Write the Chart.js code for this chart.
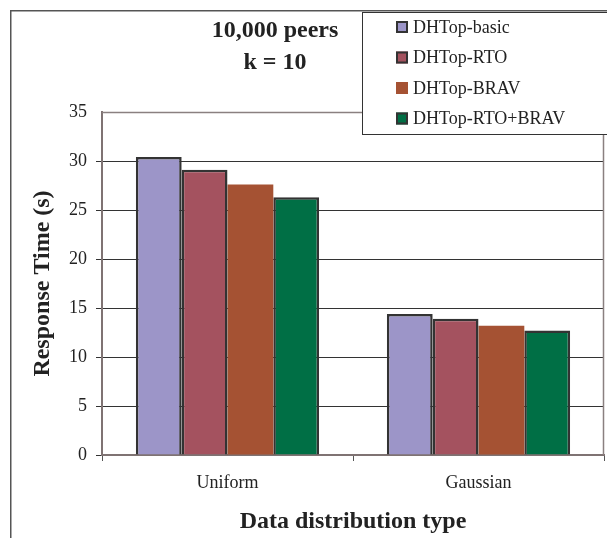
<!DOCTYPE html>
<html>
<head>
<meta charset="utf-8">
<script src="https://cdn.jsdelivr.net/npm/chart.js@4/dist/chart.umd.min.js"></script>
<style>
html,body{margin:0;padding:0;background:#fff;}
#wrap{width:607px;height:538px;position:relative;}
</style>
</head>
<body>
<div id="wrap"><canvas id="c" width="607" height="538"></canvas></div>
<script>
const categories = ["Uniform", "Gaussian"];
const seriesNames = ["DHTop-basic", "DHTop-RTO", "DHTop-BRAV", "DHTop-RTO+BRAV"];
const basicValues = [30.4, 14.4];
const rtoValues = [29.1, 13.9];
const bravValues = [27.6, 13.2];
const rtoBravValues = [26.3, 12.7];
const titleLines = ["10,000 peers", "k = 10"];
const yTitle = "Response Time (s)";
const xTitle = "Data distribution type";

const fills = ["#9c95c8", "#a4525f", "#a55233", "#006f45"];
const borders = ["#333333", "#333333", "#a55233", "#333333"];
const borderWidths = [2.5, 2.5, 0, 2.5];
const serif = "'Liberation Serif', 'Times New Roman', serif";
const seriesValues = [basicValues, rtoValues, bravValues, rtoBravValues];

const decor = {
  id: 'decor',
  beforeDraw(chart) {
    const ctx = chart.ctx;
    ctx.save();
    ctx.fillStyle = '#fff';
    ctx.fillRect(0, 0, chart.width, chart.height);
    ctx.strokeStyle = '#555';
    ctx.lineWidth = 1.5;
    ctx.strokeRect(10.75, 10.75, 700, 700);
    ctx.restore();
  },
  beforeDatasetsDraw(chart) {
    const ctx = chart.ctx, a = chart.chartArea;
    ctx.save();
    ctx.strokeStyle = '#8a8080';
    ctx.lineWidth = 1.5;
    ctx.beginPath();
    ctx.moveTo(a.left, a.top + 0.5);
    ctx.lineTo(a.right, a.top + 0.5);
    ctx.moveTo(a.right - 0.5, a.top);
    ctx.lineTo(a.right - 0.5, a.bottom);
    ctx.stroke();
    ctx.restore();
  },
  afterDraw(chart) {
    const ctx = chart.ctx;
    ctx.save();
    // title
    ctx.fillStyle = '#222';
    ctx.font = "bold 24px " + serif;
    ctx.textAlign = 'center';
    ctx.textBaseline = 'middle';
    ctx.fillText(titleLines[0], 275, 31);
    ctx.fillText(titleLines[1], 275, 63);
    // legend
    const lx = 362, ly = 12, lw = 250, lh = 122;
    ctx.fillStyle = '#fff';
    ctx.fillRect(lx, ly, lw, lh);
    ctx.strokeStyle = '#333';
    ctx.lineWidth = 1;
    ctx.strokeRect(lx + 0.5, ly + 0.5, lw, lh);
    const rows = [27, 57.5, 88, 118.5];
    chart.data.datasets.forEach((ds, i) => {
      const cy = rows[i];
      ctx.fillStyle = ds.backgroundColor;
      ctx.fillRect(396, cy - 6, 12, 12);
      if (ds.borderWidth > 0) {
        ctx.strokeStyle = ds.borderColor;
        ctx.lineWidth = 2;
        ctx.strokeRect(397, cy - 5, 10, 10);
      }
      ctx.fillStyle = '#222';
      ctx.font = "18px " + serif;
      ctx.textAlign = 'left';
      ctx.textBaseline = 'middle';
      ctx.fillText(ds.label, 413, cy + 1);
    });
    ctx.restore();
  }
};

new Chart(document.getElementById('c'), {
  type: 'bar',
  data: {
    labels: categories,
    datasets: seriesNames.map((name, i) => ({
      label: name,
      data: seriesValues[i],
      backgroundColor: fills[i],
      borderColor: borders[i],
      borderWidth: borderWidths[i],
      barPercentage: 1.0,
      categoryPercentage: 0.73
    }))
  },
  options: {
    responsive: false,
    animation: false,
    devicePixelRatio: 1,
    layout: { padding: { top: 112, right: 3, left: 0, bottom: 0 } },
    plugins: {
      legend: { display: false },
      title: { display: false },
      tooltip: { enabled: false }
    },
    scales: {
      x: {
        afterFit(scale) { scale.height = 83; },
        grid: { drawOnChartArea: false, drawTicks: true, tickLength: 6, color: '#555', offset: true },
        border: { display: true, color: '#7f7373', width: 2 },
        ticks: { color: '#222', font: { family: serif, size: 18 }, padding: 11 },
        title: { display: true, text: xTitle, color: '#222', font: { family: serif, size: 24, weight: 'bold' }, padding: { top: 0, bottom: 1.6 } }
      },
      y: {
        min: 0, max: 35,
        afterFit(scale) { scale.width = 102; },
        grid: { color: (c) => c.tick && c.tick.value === 35 ? 'rgba(0,0,0,0)' : '#333', lineWidth: 1, tickLength: 6, drawTicks: true },
        border: { display: true, color: '#7f7373', width: 2 },
        ticks: { stepSize: 5, color: '#222', font: { family: serif, size: 18 }, padding: 9 },
        title: { display: true, text: yTitle, color: '#222', font: { family: serif, size: 24, weight: 'bold' }, padding: { top: 28.6, bottom: 0 } }
      }
    }
  },
  plugins: [decor]
});
</script>
</body>
</html>
